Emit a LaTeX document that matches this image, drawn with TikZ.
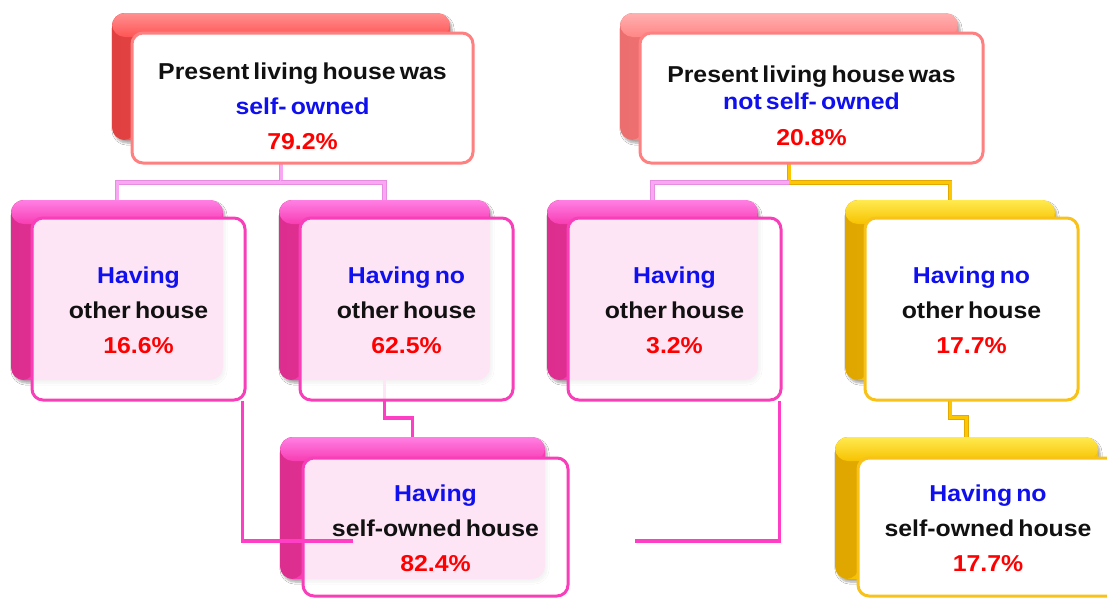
\documentclass[tikz,border=0pt]{standalone}
\usepackage{fontspec}
\setmainfont{Liberation Sans}[FakeStretch=1.08, WordSpace=0.6]
\usetikzlibrary{shadows.blur}
\definecolor{redT}{HTML}{FF9090}
\definecolor{redM}{HTML}{FF5454}
\definecolor{redD}{HTML}{E04040}
\definecolor{salT}{HTML}{FFB0B0}
\definecolor{salM}{HTML}{FF8686}
\definecolor{salD}{HTML}{EC6E6E}
\definecolor{salBorder}{HTML}{FF8080}
\definecolor{pinkT}{HTML}{FF80E4}
\definecolor{pinkM}{HTML}{F83CB2}
\definecolor{pinkD}{HTML}{DC2E8E}
\definecolor{pinkBorder}{HTML}{F83EB8}
\definecolor{yelT}{HTML}{FFEA50}
\definecolor{yelM}{HTML}{F7C200}
\definecolor{yelD}{HTML}{DFA600}
\definecolor{yelBorder}{HTML}{F8C218}
\definecolor{lilacO}{HTML}{E68CE1}
\definecolor{lilacI}{HTML}{F9A6F3}
\definecolor{goldO}{HTML}{E2AA00}
\definecolor{goldI}{HTML}{FCC600}
\definecolor{magline}{HTML}{FF3EC6}
\definecolor{hblue}{HTML}{1010EE}
\definecolor{hred}{HTML}{FF0000}
\definecolor{hblack}{HTML}{111111}
\tikzset{
  backbox/.style n args={3}{rounded corners=13pt, inner sep=0pt, fill=#2,
    blur shadow={shadow xshift=2pt, shadow yshift=-3pt, shadow blur steps=6, shadow opacity=35},
    path picture={
      \shade[left color=#1, right color=#2]
        (path picture bounding box.south west) rectangle ([xshift=24pt]path picture bounding box.north west);
      \shade[top color=#3, bottom color=#2]
        (path picture bounding box.north west) rectangle ([yshift=-24pt]path picture bounding box.north east);
    }},
  bkred/.style={backbox={redD}{redM}{redT}},
  bksal/.style={backbox={salD}{salM}{salT}},
  bkpink/.style={backbox={pinkD}{pinkM}{pinkT}},
  bkyel/.style={backbox={yelD}{yelM}{yelT}},
  frontbox/.style={rounded corners=11pt, line width=3pt, inner sep=0pt},
  frsal/.style={frontbox, draw=salBorder, fill=white},
  frpink/.style={frontbox, draw=pinkBorder, fill=white, fill opacity=0.87},
  fryel/.style={frontbox, draw=yelBorder, fill=white},
  txt/.style={align=center, inner sep=0pt, text=hblack,
    font=\fontsize{23}{35}\selectfont\bfseries},
  conlilac/.style={draw=lilacO, double=lilacI, double distance=3pt, line width=0.9pt},
  congold/.style={draw=goldO, double=goldI, double distance=3pt, line width=0.9pt},
  conmag/.style={draw=magline, line width=3.5pt},
}
\begin{document}
\begin{tikzpicture}[x=1pt, y=-1pt]
\useasboundingbox (0,0) rectangle (1107,598);
\fill[white] (0,0) rectangle (1107,598);

% back boxes
\node[bkred, minimum width=338pt, minimum height=127pt] (bk0) at (281,76.5) {};
\node[bksal, minimum width=338pt, minimum height=127pt] (bk0r) at (789,76.5) {};
\node[bkpink, minimum width=212pt, minimum height=180pt] (bk1) at (117,290) {};
\node[bkpink, minimum width=211pt, minimum height=180pt] (bk2) at (384.5,290) {};
\node[bkpink, minimum width=211pt, minimum height=180pt] (bk3) at (652.5,290) {};
\node[bkyel, minimum width=210pt, minimum height=180pt] (bk4) at (950,290) {};
\node[bkpink, minimum width=265pt, minimum height=142pt] (bk5) at (412.5,508) {};
\node[bkyel, minimum width=263pt, minimum height=142pt] (bk6) at (966.5,508) {};

% connectors under the boxes
\draw[conlilac] (bk0.south) -- ++(0,42) coordinate (j0) -| (bk1.north);
\draw[conlilac] (j0) -| (bk2.north);
\draw[congold] (bk0r.south) -- ++(0,42) coordinate (j1) -| (bk4.north);
\draw[conlilac] (j1) -| (bk3.north);
\draw[conmag] (bk2.south) -- ++(0,38) -| (bk5.north);
\draw[congold] (bk4.south) -- ++(0,37) -| (bk6.north);

% front boxes
\node[frsal, minimum width=341pt, minimum height=130pt] (f0) at (302.5,98) {};
\node[frsal, minimum width=343pt, minimum height=130pt] (f0r) at (811.5,98) {};
\node[frpink, minimum width=213pt, minimum height=182pt] (f1) at (138.5,309) {};
\node[frpink, minimum width=213pt, minimum height=182pt] (f2) at (406.5,309) {};
\node[frpink, minimum width=213pt, minimum height=182pt] (f3) at (674.5,309) {};
\node[fryel, minimum width=213pt, minimum height=182pt] (f4) at (971.5,309) {};
\node[frpink, minimum width=265pt, minimum height=138pt] (f5) at (435.5,527) {};
\node[fryel, minimum width=265pt, minimum height=138pt] (f6) at (990.5,527) {};

% texts
\node[txt] (t0) at (302.5,106) {Present living house was\\\textcolor{hblue}{self- owned}\\\textcolor{hred}{79.2\%}};
\node[txt] (t0r) at (811.5,106) {Present living house was\\[-8pt]\textcolor{hblue}{not self- owned}\\[1pt]\textcolor{hred}{20.8\%}};
\node[txt] (t1) at (138.5,310.5) {\textcolor{hblue}{Having}\\other house\\\textcolor{hred}{16.6\%}};
\node[txt] (t2) at (406.5,310.5) {\textcolor{hblue}{Having no}\\other house\\\textcolor{hred}{62.5\%}};
\node[txt] (t3) at (674.5,310.5) {\textcolor{hblue}{Having}\\other house\\\textcolor{hred}{3.2\%}};
\node[txt] (t4) at (971.5,310.5) {\textcolor{hblue}{Having no}\\other house\\\textcolor{hred}{17.7\%}};
\node[txt] (t5) at (435.5,528.5) {\textcolor{hblue}{Having}\\self-owned house\\\textcolor{hred}{82.4\%}};
\node[txt] (t6) at (988,528.5) {\textcolor{hblue}{Having no}\\self-owned house\\\textcolor{hred}{17.7\%}};

% connectors over the boxes
\coordinate (e1) at (353,541);
\coordinate (e3) at (635,541);
\draw[conmag] (f1.south east) ++(-4,-1) |- (e1);
\draw[conmag] (f3.south east) ++(-3,-1) |- (e3);
\end{tikzpicture}
\end{document}
